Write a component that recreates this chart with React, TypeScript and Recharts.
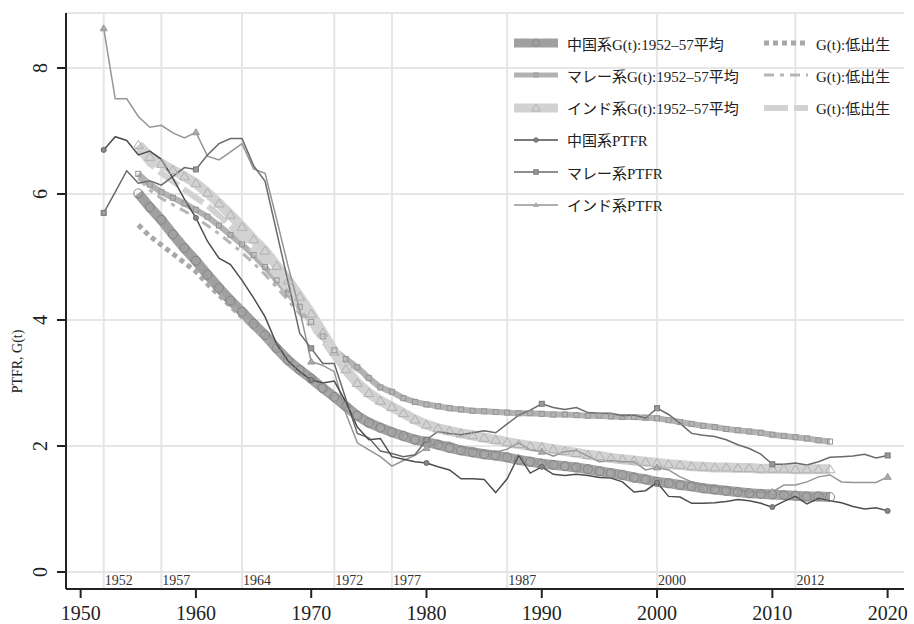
import React from "react";
import { LineChart, Line, XAxis, YAxis, CartesianGrid, ReferenceLine, Legend, Label } from "recharts";

const serif = "'Liberation Serif', 'Times New Roman', serif";
const mixed = "'Liberation Serif', 'Noto Sans CJK JP', sans-serif";

// x values
const years = [
  1952, 1953, 1954, 1955, 1956, 1957, 1958, 1959, 1960, 1961, 1962, 1963, 1964, 1965, 1966, 1967, 1968, 1969,
  1970, 1971, 1972, 1973, 1974, 1975, 1976, 1977, 1978, 1979, 1980, 1981, 1982, 1983, 1984, 1985, 1986, 1987,
  1988, 1989, 1990, 1991, 1992, 1993, 1994, 1995, 1996, 1997, 1998, 1999, 2000, 2001, 2002, 2003, 2004, 2005,
  2006, 2007, 2008, 2009, 2010, 2011, 2012, 2013, 2014, 2015, 2016, 2017, 2018, 2019, 2020,
];
const gStartYear = 1955; // G(t) series run 1955-2015

const xTicks = [1950, 1960, 1970, 1980, 1990, 2000, 2010, 2020];
const yTicks = [0, 2, 4, 6, 8];
const markYears = [1952, 1957, 1964, 1972, 1977, 1987, 2000, 2012];

// PTFR, 1952-2020
const chinesePTFR = [
  6.70, 6.91, 6.85, 6.62, 6.68, 6.55, 6.25, 5.92, 5.62, 5.25, 4.98, 4.88, 4.63, 4.35, 4.05, 3.62, 3.35, 3.18,
  3.05, 3.00, 3.03, 2.70, 2.30, 2.10, 2.12, 1.83, 1.79, 1.75, 1.73, 1.67, 1.62, 1.48, 1.48, 1.47, 1.26, 1.48,
  1.85, 1.57, 1.67, 1.55, 1.53, 1.55, 1.53, 1.50, 1.49, 1.43, 1.27, 1.29, 1.42, 1.20, 1.19, 1.09, 1.09, 1.10,
  1.12, 1.15, 1.13, 1.09, 1.03, 1.12, 1.20, 1.08, 1.17, 1.13, 1.10, 1.04, 1.00, 1.02, 0.97,
];
const malayPTFR = [
  5.70, 6.03, 6.37, 6.17, 6.21, 6.14, 6.28, 6.42, 6.39, 6.62, 6.80, 6.88, 6.88, 6.45, 6.20, 5.40, 4.60, 3.79,
  3.55, 3.31, 3.31, 2.75, 2.20, 2.13, 1.92, 1.88, 1.83, 1.86, 2.10, 2.23, 2.20, 2.18, 2.21, 2.24, 2.21, 2.35,
  2.49, 2.57, 2.67, 2.61, 2.58, 2.61, 2.53, 2.52, 2.52, 2.48, 2.49, 2.44, 2.60, 2.50, 2.36, 2.20, 2.17, 2.15,
  2.10, 2.02, 1.96, 1.87, 1.71, 1.71, 1.73, 1.70, 1.75, 1.82, 1.83, 1.84, 1.87, 1.81, 1.85,
];
const indianPTFR = [
  8.63, 7.51, 7.51, 7.23, 7.06, 7.09, 6.97, 6.89, 6.98, 6.60, 6.54, 6.67, 6.80, 6.40, 6.33, 5.60, 4.85, 4.16,
  3.34, 3.28, 3.18, 2.52, 2.05, 1.94, 1.83, 1.68, 1.77, 1.85, 1.97, 2.05, 2.06, 1.99, 1.95, 1.93, 1.90, 1.95,
  2.05, 1.94, 1.91, 1.84, 1.91, 1.93, 1.84, 1.75, 1.77, 1.75, 1.75, 1.62, 1.66, 1.62, 1.51, 1.43, 1.38, 1.35,
  1.34, 1.31, 1.27, 1.27, 1.27, 1.38, 1.38, 1.43, 1.51, 1.54, 1.43, 1.42, 1.42, 1.42, 1.51,
];

// G(t) with 1952-57 average, 1955-2015
const chineseG = [
  6.01, 5.79, 5.59, 5.36, 5.14, 4.94, 4.72, 4.51, 4.31, 4.13, 3.94, 3.76, 3.55, 3.36, 3.21, 3.07, 2.92, 2.78,
  2.63, 2.48, 2.37, 2.29, 2.22, 2.16, 2.10, 2.06, 2.02, 1.97, 1.93, 1.90, 1.87, 1.85, 1.82, 1.78, 1.75, 1.72,
  1.70, 1.68, 1.66, 1.63, 1.60, 1.57, 1.54, 1.50, 1.47, 1.43, 1.41, 1.38, 1.36, 1.33, 1.31, 1.29, 1.27, 1.25,
  1.24, 1.23, 1.22, 1.21, 1.20, 1.20, 1.19,
];
const malayG = [
  6.32, 6.15, 6.03, 5.94, 5.85, 5.75, 5.64, 5.50, 5.35, 5.20, 5.03, 4.84, 4.63, 4.42, 4.21, 3.97, 3.74, 3.52,
  3.38, 3.25, 3.08, 2.93, 2.86, 2.76, 2.70, 2.66, 2.63, 2.60, 2.58, 2.56, 2.55, 2.54, 2.53, 2.52, 2.52, 2.51,
  2.50, 2.50, 2.49, 2.48, 2.48, 2.47, 2.46, 2.46, 2.45, 2.44, 2.41, 2.38, 2.35, 2.32, 2.30, 2.27, 2.25, 2.23,
  2.21, 2.18, 2.16, 2.14, 2.12, 2.09, 2.07,
];
const indianG = [
  6.78, 6.59, 6.48, 6.38, 6.28, 6.17, 6.02, 5.85, 5.67, 5.48, 5.28, 5.10, 4.86, 4.63, 4.37, 4.10, 3.80, 3.50,
  3.22, 3.00, 2.84, 2.72, 2.62, 2.52, 2.42, 2.34, 2.28, 2.24, 2.20, 2.17, 2.13, 2.10, 2.06, 2.03, 2.00, 1.98,
  1.95, 1.92, 1.89, 1.86, 1.84, 1.81, 1.79, 1.77, 1.75, 1.73, 1.71, 1.70, 1.68, 1.67, 1.66, 1.66, 1.65, 1.65,
  1.64, 1.64, 1.64, 1.63, 1.63, 1.63, 1.63,
];

// G(t) low fertility, 1955-2015
const chineseLow = [
  5.51, 5.33, 5.19, 5.05, 4.91, 4.77, 4.57, 4.40, 4.22, 4.05, 3.88, 3.72, 3.52, 3.34, 3.19, 3.05, 2.91, 2.77,
  2.62, 2.48, 2.36, 2.28, 2.21, 2.15, 2.09, 2.05, 2.01, 1.96, 1.92, 1.89, 1.86, 1.84, 1.81, 1.77, 1.74, 1.71,
  1.69, 1.67, 1.65, 1.62, 1.59, 1.56, 1.53, 1.49, 1.46, 1.42, 1.40, 1.37, 1.35, 1.32, 1.30, 1.28, 1.26, 1.24,
  1.23, 1.22, 1.21, 1.20, 1.19, 1.19, 1.18,
];
const malayLow = [
  6.25, 6.06, 5.93, 5.83, 5.73, 5.62, 5.50, 5.37, 5.22, 5.07, 4.90, 4.72, 4.52, 4.31, 4.10, 3.88, 3.67, 3.47,
  3.33, 3.20, 3.04, 2.90, 2.83, 2.74, 2.68, 2.64, 2.61, 2.59, 2.57, 2.55, 2.54, 2.53, 2.52, 2.51, 2.51, 2.50,
  2.49, 2.49, 2.48, 2.47, 2.47, 2.46, 2.45, 2.45, 2.44, 2.43, 2.40, 2.37, 2.34, 2.31, 2.29, 2.26, 2.24, 2.22,
  2.20, 2.17, 2.15, 2.13, 2.11, 2.08, 2.06,
];
const indianLow = [
  6.70, 6.48, 6.33, 6.20, 6.07, 5.94, 5.82, 5.66, 5.49, 5.30, 5.11, 4.93, 4.70, 4.46, 4.21, 3.95, 3.68, 3.42,
  3.16, 2.96, 2.80, 2.68, 2.58, 2.49, 2.40, 2.32, 2.26, 2.22, 2.18, 2.15, 2.11, 2.08, 2.05, 2.02, 1.99, 1.97,
  1.94, 1.91, 1.88, 1.85, 1.83, 1.80, 1.78, 1.76, 1.74, 1.72, 1.70, 1.69, 1.67, 1.66, 1.65, 1.65, 1.64, 1.64,
  1.63, 1.63, 1.63, 1.62, 1.62, 1.62, 1.62,
];

const data = years.map((year, i) => {
  const g = year - gStartYear;
  const pick = (arr: number[]) => (g >= 0 && g < arr.length ? arr[g] : null);
  return {
    year,
    chPTFR: chinesePTFR[i],
    maPTFR: malayPTFR[i],
    inPTFR: indianPTFR[i],
    chG: pick(chineseG),
    maG: pick(malayG),
    inG: pick(indianG),
    chLow: pick(chineseLow),
    maLow: pick(malayLow),
    inLow: pick(indianLow),
  };
});

const empty = (p: any) => <g key={`e-${p.index}`} />;

const bandDot = (shape: string, stroke: string) => (p: any) => {
  if (p.cx == null || p.cy == null || p.value == null) return empty(p);
  const { cx, cy } = p;
  if (shape === "circle")
    return <circle key={`c-${p.index}`} cx={cx} cy={cy} r={4.5} fill="none" stroke={stroke} strokeWidth={1} />;
  if (shape === "square")
    return <rect key={`s-${p.index}`} x={cx - 2.5} y={cy - 2.5} width={5} height={5} fill="none" stroke={stroke} strokeWidth={1} />;
  return (
    <path key={`t-${p.index}`} d={`M${cx},${cy - 4.5}L${cx + 5},${cy + 3.5}L${cx - 5},${cy + 3.5}Z`} fill="none" stroke={stroke} strokeWidth={1} />
  );
};

// PTFR markers only on 1952 and the decades
const ptfrDot = (shape: string, fill: string, stroke: string) => (p: any) => {
  const yr = p.payload?.year;
  if (p.cx == null || p.cy == null || !(yr % 10 === 0 || yr === 1952)) return empty(p);
  const { cx, cy } = p;
  if (shape === "circle")
    return <circle key={`pc-${p.index}`} cx={cx} cy={cy} r={2.5} fill={fill} stroke={stroke} strokeWidth={1} />;
  if (shape === "square")
    return <rect key={`ps-${p.index}`} x={cx - 2.5} y={cy - 2.5} width={5} height={5} fill={fill} stroke={stroke} strokeWidth={1} />;
  return <path key={`pt-${p.index}`} d={`M${cx},${cy - 3.5}L${cx + 3.5},${cy + 2.5}L${cx - 3.5},${cy + 2.5}Z`} fill={fill} stroke={stroke} strokeWidth={1} />;
};

const YTick = (props: any) => {
  const { x, y, payload } = props;
  return (
    <text x={x} y={y} transform={`rotate(-90 ${x} ${y})`} textAnchor="middle" fontSize={20} fontFamily={serif} fill="#222">
      {payload.value}
    </text>
  );
};

const yearLabel = (text: string) => (props: any) => {
  const vb = props.viewBox || {};
  return (
    <text x={vb.x + 1} y={vb.y + vb.height - 4} fontSize={14} fontFamily={serif} fill="#333">
      {text}
    </text>
  );
};

const Sym = ({ kind }: { kind: string }) => {
  const w = 44;
  const c = 6;
  let body: React.ReactNode = null;
  switch (kind) {
    case "chG":
      body = (
        <>
          <rect x={0} y={c - 4.5} width={w} height={9} fill="#a0a0a0" />
          <circle cx={w / 2} cy={c} r={3.5} fill="none" stroke="#888" />
        </>
      );
      break;
    case "maG":
      body = (
        <>
          <rect x={0} y={c - 2.5} width={w} height={5} fill="#b2b2b2" />
          <rect x={w / 2 - 2} y={c - 2} width={4} height={4} fill="none" stroke="#999" />
        </>
      );
      break;
    case "inG":
      body = (
        <>
          <rect x={0} y={c - 4.5} width={w} height={9} fill="#d2d2d2" />
          <path d={`M${w / 2},${c - 4}L${w / 2 + 4.5},${c + 3}L${w / 2 - 4.5},${c + 3}Z`} fill="none" stroke="#b0b0b0" />
        </>
      );
      break;
    case "chP":
      body = (
        <>
          <line x1={0} x2={w} y1={c} y2={c} stroke="#4d4d4d" strokeWidth={1.5} />
          <circle cx={w / 2} cy={c} r={2.2} fill="#888" stroke="#666" />
        </>
      );
      break;
    case "maP":
      body = (
        <>
          <line x1={0} x2={w} y1={c} y2={c} stroke="#6a6a6a" strokeWidth={1.5} />
          <rect x={w / 2 - 2.2} y={c - 2.2} width={4.4} height={4.4} fill="#999" stroke="#777" />
        </>
      );
      break;
    case "inP":
      body = (
        <>
          <line x1={0} x2={w} y1={c} y2={c} stroke="#959595" strokeWidth={1.5} />
          <path d={`M${w / 2},${c - 3}L${w / 2 + 3},${c + 2}L${w / 2 - 3},${c + 2}Z`} fill="#aaa" />
        </>
      );
      break;
    case "chL":
      body = <line x1={0} x2={w} y1={c} y2={c} stroke="#a8a8a8" strokeWidth={5} strokeDasharray="5 4" />;
      break;
    case "maL":
      body = <line x1={0} x2={w} y1={c} y2={c} stroke="#b5b5b5" strokeWidth={3} strokeDasharray="10 6 4 6" />;
      break;
    case "inL":
      body = <line x1={0} x2={w} y1={c} y2={c} stroke="#d2d2d2" strokeWidth={6} strokeDasharray="24 6" />;
      break;
  }
  return (
    <svg width={w} height={12} style={{ display: "block" }}>
      {body}
    </svg>
  );
};

const leftItems = [
  { kind: "chG", text: "中国系G(t):1952–57平均" },
  { kind: "maG", text: "マレー系G(t):1952–57平均" },
  { kind: "inG", text: "インド系G(t):1952–57平均" },
  { kind: "chP", text: "中国系PTFR" },
  { kind: "maP", text: "マレー系PTFR" },
  { kind: "inP", text: "インド系PTFR" },
];
const rightItems = [
  { kind: "chL", text: "G(t):低出生" },
  { kind: "maL", text: "G(t):低出生" },
  { kind: "inL", text: "G(t):低出生" },
];

const rowTop = (i: number) => 15 + i * 32.3 - 10;

const LegendBox = () => (
  <div style={{ position: "relative", width: 400, height: 200, fontFamily: mixed, fontSize: 15, color: "#222" }}>
    {leftItems.map((it, i) => (
      <div key={it.kind} style={{ position: "absolute", left: 6, top: rowTop(i), display: "flex", alignItems: "center", height: 20, whiteSpace: "nowrap" }}>
        <Sym kind={it.kind} />
        <span style={{ marginLeft: 9 }}>{it.text}</span>
      </div>
    ))}
    {rightItems.map((it, i) => (
      <div key={it.kind} style={{ position: "absolute", left: 256, top: rowTop(i), display: "flex", alignItems: "center", height: 20, whiteSpace: "nowrap" }}>
        <Sym kind={it.kind} />
        <span style={{ marginLeft: 8 }}>{it.text}</span>
      </div>
    ))}
  </div>
);

export default function App() {
  return (
    <div style={{ position: "absolute", left: 0, top: 0, width: 914, height: 624, background: "#fff" }}>
      <LineChart width={914} height={624} data={data} margin={{ top: 13, right: 10, bottom: 0, left: 0 }}>
        <CartesianGrid vertical={false} stroke="#e6e6e6" strokeWidth={2} />
        {markYears.map((yr) => (
          <ReferenceLine key={yr} x={yr} stroke="#e6e6e6" strokeWidth={2} label={yearLabel(String(yr))} />
        ))}
        <XAxis
          dataKey="year"
          type="number"
          domain={[1948.73, 2021.42]}
          ticks={xTicks}
          height={35}
          tickSize={9}
          tickMargin={8}
          stroke="#222"
          strokeWidth={2}
          tick={{ fontSize: 20, fontFamily: serif, fill: "#222" }}
          allowDataOverflow
        />
        <YAxis
          type="number"
          domain={[-0.27, 8.873]}
          ticks={yTicks}
          width={66}
          tickSize={9}
          tickMargin={10}
          stroke="#222"
          strokeWidth={2}
          tick={<YTick />}
          allowDataOverflow
        >
          <Label
            content={(p: any) => {
              const vb = p.viewBox || { x: 0, y: 13, height: 576 };
              const x = vb.x + 22;
              const y = vb.y + vb.height * 0.605;
              return (
                <text x={x} y={y} transform={`rotate(-90 ${x} ${y})`} textAnchor="middle" fontSize={14} fontFamily={serif} fill="#222">
                  PTFR, G(t)
                </text>
              );
            }}
          />
        </YAxis>
        <Legend
          layout="vertical"
          align="center"
          verticalAlign="middle"
          wrapperStyle={{ top: 28, left: 508, width: 400 }}
          content={() => <LegendBox />}
        />

        <Line dataKey="chG" stroke="#a0a0a0" strokeWidth={10} dot={bandDot("circle", "#858585")} activeDot={false} isAnimationActive={false} />
        <Line dataKey="maG" stroke="#b2b2b2" strokeWidth={6} dot={bandDot("square", "#959595")} activeDot={false} isAnimationActive={false} />
        <Line dataKey="inG" stroke="#d2d2d2" strokeWidth={10} dot={bandDot("triangle", "#b0b0b0")} activeDot={false} isAnimationActive={false} />

        <Line dataKey="chLow" stroke="#a8a8a8" strokeWidth={5} strokeDasharray="5 4" dot={false} activeDot={false} isAnimationActive={false} />
        <Line dataKey="maLow" stroke="#b5b5b5" strokeWidth={3} strokeDasharray="10 6 4 6" dot={false} activeDot={false} isAnimationActive={false} />
        <Line dataKey="inLow" stroke="#d2d2d2" strokeWidth={6} strokeDasharray="24 6" dot={false} activeDot={false} isAnimationActive={false} />

        <Line dataKey="inPTFR" stroke="#959595" strokeWidth={1.5} dot={ptfrDot("triangle", "#aaa", "#999")} activeDot={false} isAnimationActive={false} />
        <Line dataKey="maPTFR" stroke="#6a6a6a" strokeWidth={1.5} dot={ptfrDot("square", "#999", "#777")} activeDot={false} isAnimationActive={false} />
        <Line dataKey="chPTFR" stroke="#4d4d4d" strokeWidth={1.5} dot={ptfrDot("circle", "#888", "#666")} activeDot={false} isAnimationActive={false} />
      </LineChart>
    </div>
  );
}
